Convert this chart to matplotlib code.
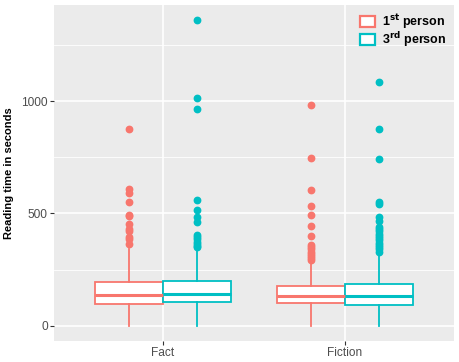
import matplotlib
matplotlib.use("Agg")
import matplotlib.pyplot as plt
from matplotlib.patches import Patch

plt.rcParams["font.family"] = ["Liberation Sans", "DejaVu Sans"]
plt.rcParams["mathtext.default"] = "bf"

genres = ["Fact", "Fiction"]
persons = ["1$^{st}$ person", "3$^{rd}$ person"]
colors = ["#F8766D", "#00BFC4"]

# box statistics: [Fact, Fiction] per person
q1 = {"1st": [96, 101], "3rd": [104, 93]}
med = {"1st": [136, 133], "3rd": [141, 133]}
q3 = {"1st": [194, 175], "3rd": [200, 185]}
whislo = {"1st": [0, 0], "3rd": [0, 0]}
whishi = {"1st": [340, 284], "3rd": [344, 322]}

fliers = {
    "1st": [
        [877, 610, 590, 550, 495, 490, 455, 430, 420, 395, 385, 362],
        [985, 745, 604, 533, 493, 444, 401, 360, 350, 340, 330, 320, 310, 300, 292],
    ],
    "3rd": [
        [1360, 1012, 964, 560, 516, 483, 463, 404, 395, 385, 375, 365, 357, 350],
        [1086, 876, 742, 550, 540, 486, 468, 441, 430, 420, 410, 400, 390, 380,
         370, 360, 350, 340, 330],
    ],
}

fig = plt.figure(figsize=(4.59, 3.62), dpi=100)
ax = fig.add_axes([0.1176, 0.058, 0.8714, 0.928])
ax.set_facecolor("#EBEBEB")

for y in [250, 750, 1250]:
    ax.axhline(y, color="white", lw=0.6, zorder=0)
for y in [0, 500, 1000]:
    ax.axhline(y, color="white", lw=1.2, zorder=0)
for x in [1, 2]:
    ax.axvline(x, color="white", lw=1.2, zorder=0)

width = 0.375
for k, key in enumerate(["1st", "3rd"]):
    stats = []
    for g in range(len(genres)):
        stats.append(dict(q1=q1[key][g], med=med[key][g], q3=q3[key][g],
                          whislo=whislo[key][g], whishi=whishi[key][g],
                          fliers=fliers[key][g]))
    pos = [g + 1 + (k - 0.5) * width for g in range(len(genres))]
    c = colors[k]
    ax.bxp(stats, positions=pos, widths=width, patch_artist=True,
           showcaps=False,
           boxprops=dict(facecolor="white", edgecolor=c, lw=1.3),
           medianprops=dict(color=c, lw=2.2),
           whiskerprops=dict(color=c, lw=1.3),
           flierprops=dict(marker="o", markerfacecolor=c, markeredgecolor=c,
                           markersize=4.6),
           manage_ticks=False, zorder=3)

ax.set_xlim(0.4, 2.6)
ax.set_ylim(-68, 1428)
ax.set_xticks([1, 2])
ax.set_xticklabels(genres)
ax.set_yticks([0, 500, 1000])
ax.tick_params(colors="#333333", labelcolor="#4D4D4D", labelsize=8.6,
               length=3, width=0.8, pad=1.5)
for s in ax.spines.values():
    s.set_visible(False)

ax.set_ylabel("Reading time in seconds", fontsize=8, fontweight="bold", labelpad=5)

handles = [Patch(facecolor="white", edgecolor=c, lw=1.6) for c in colors]
leg = ax.legend(handles, persons, loc="upper right", frameon=False,
                prop=dict(size=9, weight="bold"), handlelength=1.2,
                handleheight=0.9, handletextpad=0.6, labelspacing=-0.1,
                borderaxespad=0.2)

fig.savefig("out.png", dpi=100)
